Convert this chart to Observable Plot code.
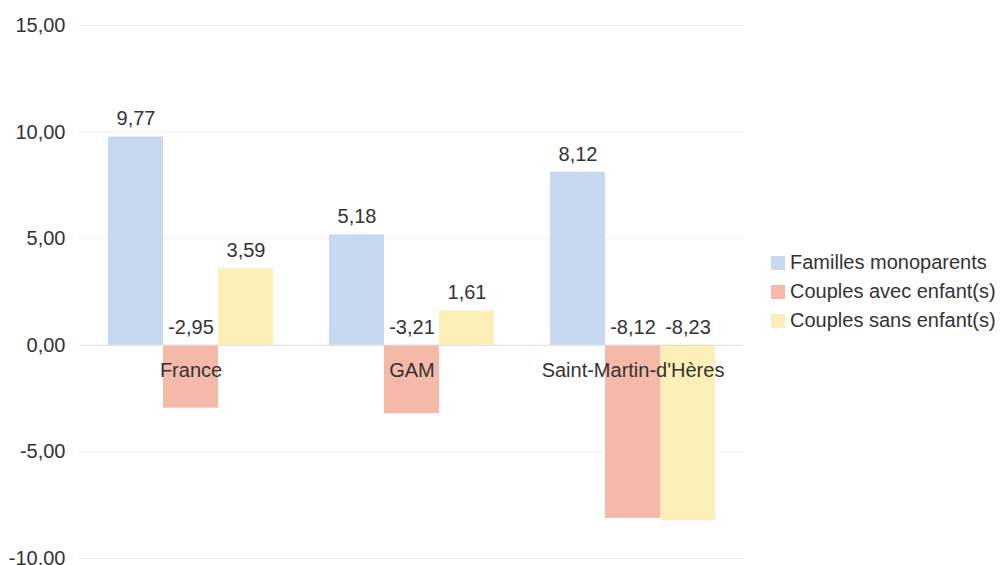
<!DOCTYPE html>
<html><head><meta charset="utf-8">
<script src="https://cdn.jsdelivr.net/npm/d3@7"></script>
<script src="https://cdn.jsdelivr.net/npm/@observablehq/plot@0.6"></script>
<style>
body{margin:0;background:#fff;font-family:"Liberation Sans",Arial,sans-serif;color:#333}
#wrap{position:relative;width:1000px;height:565px;overflow:hidden}
#legend{position:absolute;left:771px;top:248px;font-size:20px;line-height:29px}
#legend .row{display:flex;align-items:center;white-space:nowrap}
#legend .sw{width:14px;height:14px;margin-right:5px;flex:none}
</style></head><body><div id="wrap"><div id="legend"></div></div>
<script>
const groups = ["France", "GAM", "Saint-Martin-d'Hères"];
const series = ["Familles monoparents", "Couples avec enfant(s)", "Couples sans enfant(s)"];
const monoparents = [9.77, 5.18, 8.12];
const avecEnfants = [-2.95, -3.21, -8.12];
const sansEnfants = [3.59, 1.61, -8.23];
const colors = ["#c6d9f0", "#f5b9aa", "#fdefb8"];
const yTicks = [-10, -5, 0, 5, 10, 15];

const seriesValues = [monoparents, avecEnfants, sansEnfants];
const data = groups.flatMap((g, i) => series.map((s, j) => ({group: g, series: s, value: seriesValues[j][i]})));
const fmt = v => v.toFixed(2).replace(".", ",");

const chart = Plot.plot({
  width: 1000, height: 565,
  marginLeft: 80, marginRight: 257, marginTop: 25, marginBottom: 7,
  style: {fontSize: "20px", fontFamily: "'Liberation Sans', Arial, sans-serif", color: "#333", background: "white"},
  fx: {domain: groups, padding: 0, axis: null},
  x: {domain: series, paddingInner: 0, paddingOuter: 0.49, axis: null},
  y: {domain: [-10, 15], ticks: yTicks, tickFormat: fmt, tickSize: 0, tickPadding: 15, label: null},
  color: {domain: series, range: colors},
  marks: [
    Plot.ruleY(yTicks.filter(t => t !== 0), {stroke: "#efefef"}),
    Plot.barY(data, {fx: "group", x: "series", y: "value", fill: "series"}),
    Plot.ruleY([0], {stroke: "#dddddd"}),
    Plot.text(data, {fx: "group", x: "series", y: d => Math.max(0, d.value), text: d => fmt(d.value), dy: -18, fill: "#333"}),
    Plot.text(groups, {fx: d => d, y: () => 0, text: d => d, dy: 25, fill: "#333"})
  ]
});
document.getElementById("wrap").prepend(chart);

const legend = document.getElementById("legend");
series.forEach((s, i) => {
  const row = document.createElement("div");
  row.className = "row";
  const sw = document.createElement("span");
  sw.className = "sw";
  sw.style.background = colors[i];
  const t = document.createElement("span");
  t.textContent = s;
  row.append(sw, t);
  legend.append(row);
});
</script>
</body></html>
